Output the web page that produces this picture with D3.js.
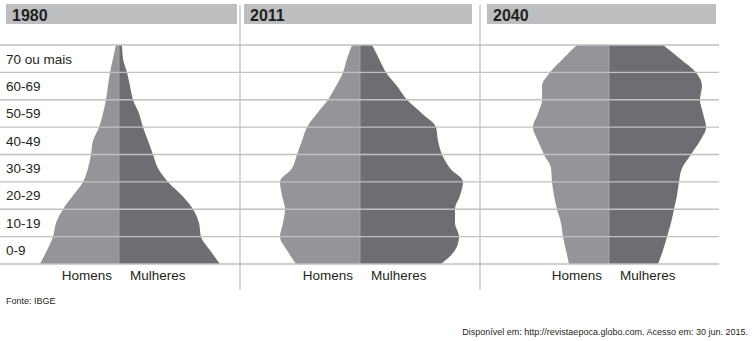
<!DOCTYPE html>
<html>
<head>
<meta charset="utf-8">
<script src="https://cdn.jsdelivr.net/npm/d3@7"></script>
<style>
  html, body { margin: 0; padding: 0; background: #fff; }
  svg { display: block; font-family: Arial, "Liberation Sans", Helvetica, sans-serif; }
</style>
</head>
<body>
<svg id="chart" width="753" height="341"></svg>
<script>
// Single ages (5-year steps) at which the outline of each pyramid is given
const ages = [0, 5, 10, 15, 20, 25, 30, 35, 40, 45, 50, 55, 60, 65, 70, 75, 80];
const ageGroups = ["0-9", "10-19", "20-29", "30-39", "40-49", "50-59", "60-69", "70 ou mais"];
const years = ["1980", "2011", "2040"];

// Share of population at each age (relative units)
const homens1980   = [7.9, 7.2, 6.6, 6.3, 5.6, 4.6, 3.6, 3.1, 2.8, 2.6, 2.0, 1.6, 1.3, 1.1, 0.9, 0.6, 0.3];
const mulheres1980 = [10.1, 9.1, 8.2, 8.0, 7.4, 6.3, 4.9, 3.9, 3.4, 2.9, 2.4, 2.0, 1.4, 1.1, 0.8, 0.4, 0.3];
const homens2011   = [6.4, 7.3, 8.0, 7.7, 7.5, 7.8, 8.0, 6.8, 6.3, 5.8, 5.3, 4.3, 3.2, 2.4, 1.7, 1.3, 0.8];
const mulheres2011 = [8.1, 9.5, 9.9, 9.5, 9.5, 10.0, 10.3, 9.0, 8.2, 7.8, 7.6, 6.2, 4.7, 3.7, 2.6, 1.9, 1.2];
const homens2040   = [4.0, 4.3, 4.6, 4.8, 5.2, 5.5, 5.7, 5.8, 6.5, 7.1, 7.6, 7.1, 6.7, 6.7, 5.9, 4.6, 3.2];
const mulheres2040 = [4.9, 5.4, 5.8, 6.2, 6.5, 6.8, 7.0, 7.3, 8.2, 9.1, 9.7, 9.4, 9.1, 9.3, 8.7, 7.1, 5.4];

const sexLabels = ["Homens", "Mulheres"];
const fonte = "Fonte: IBGE";
const credito = "Disponível em: http://revistaepoca.globo.com. Acesso em: 30 jun. 2015.";

const seriesByYear = [
  { year: years[0], homens: homens1980, mulheres: mulheres1980 },
  { year: years[1], homens: homens2011, mulheres: mulheres2011 },
  { year: years[2], homens: homens2040, mulheres: mulheres2040 }
];

// Panel layout: header extent and pyramid axis for each year
const panels = [
  { hx0: 6,   hx1: 237, cx: 119 },
  { hx0: 244, hx1: 472, cx: 360 },
  { hx0: 487, hx1: 716, cx: 609 }
];

const colHomens = "#939598";
const colMulheres = "#6d6e71";
const colGrid = "#bfc0c2";
const colHeader = "#bcbec0";
const colText = "#231f20";

const svg = d3.select("#chart");

const y = d3.scaleLinear().domain([0, 80]).range([264, 45]);
const w = d3.scaleLinear().domain([0, 10]).range([0, 100]);

// Header bars with year titles
panels.forEach((p, i) => {
  svg.append("rect")
    .attr("x", p.hx0).attr("y", 4)
    .attr("width", p.hx1 - p.hx0).attr("height", 20)
    .attr("fill", colHeader);
  svg.append("text")
    .attr("x", p.hx0 + 6).attr("y", 21)
    .attr("font-size", 16).attr("font-weight", "bold")
    .attr("fill", colText)
    .text(seriesByYear[i].year);
});

// Pyramids: men to the left of the axis, women to the right
seriesByYear.forEach((s, i) => {
  const cx = panels[i].cx;
  const left = d3.area()
    .curve(d3.curveMonotoneY)
    .y((d, k) => y(ages[k]))
    .x0(cx)
    .x1(d => cx - w(d));
  const right = d3.area()
    .curve(d3.curveMonotoneY)
    .y((d, k) => y(ages[k]))
    .x0(cx)
    .x1(d => cx + w(d));
  svg.append("path").attr("d", left(s.homens)).attr("fill", colHomens);
  svg.append("path").attr("d", right(s.mulheres)).attr("fill", colMulheres);
  svg.append("line")
    .attr("x1", cx).attr("x2", cx)
    .attr("y1", y(80)).attr("y2", y(0))
    .attr("stroke", "#a9aaad").attr("stroke-width", 0.8);
});

// Horizontal grid at decade boundaries
const decades = d3.range(0, 81, 10);
svg.append("g").selectAll("line")
  .data(decades)
  .join("line")
  .attr("x1", 0).attr("x2", 719)
  .attr("y1", d => y(d)).attr("y2", d => y(d))
  .attr("stroke", colGrid).attr("stroke-width", 1.3);

// Panel dividers
[240, 480].forEach(x => {
  svg.append("line")
    .attr("x1", x).attr("x2", x)
    .attr("y1", 5).attr("y2", 290)
    .attr("stroke", colGrid).attr("stroke-width", 1.3);
});

// Age group labels, centred in each decade band
svg.append("g").selectAll("text")
  .data(ageGroups)
  .join("text")
  .attr("x", 6)
  .attr("y", (d, k) => (y(k * 10) + y(k * 10 + 10)) / 2)
  .attr("dy", "0.36em")
  .attr("font-size", 13.5)
  .attr("fill", colText)
  .text(d => d);

// Sex labels under each pyramid
panels.forEach(p => {
  svg.append("text")
    .attr("x", p.cx - 7).attr("y", 280)
    .attr("text-anchor", "end")
    .attr("font-size", 13.5).attr("fill", colText)
    .text(sexLabels[0]);
  svg.append("text")
    .attr("x", p.cx + 11).attr("y", 280)
    .attr("font-size", 13.5).attr("fill", colText)
    .text(sexLabels[1]);
});

// Source lines
svg.append("text")
  .attr("x", 6).attr("y", 304)
  .attr("font-size", 9).attr("fill", colText)
  .text(fonte);
svg.append("text")
  .attr("x", 748).attr("y", 335)
  .attr("text-anchor", "end")
  .attr("font-size", 9).attr("fill", colText)
  .text(credito);
</script>
</body>
</html>
